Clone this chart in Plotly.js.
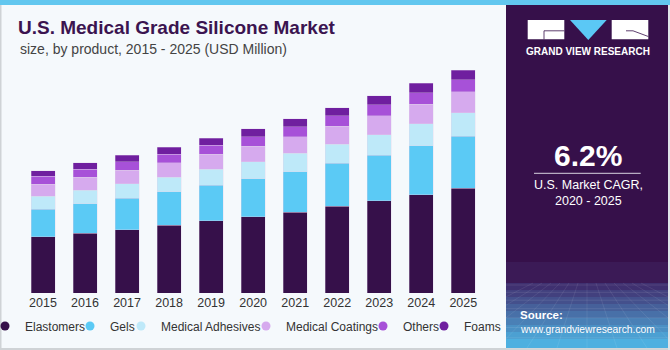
<!DOCTYPE html>
<html>
<head>
<meta charset="utf-8">
<script src="https://cdn.plot.ly/plotly-3.0.1.min.js"></script>
<style>
  html, body { margin: 0; padding: 0; background: #f5f9fc; }
  #chart { width: 670px; height: 350px; }
</style>
</head>
<body>
<div id="chart"></div>
<script>
// ---- Data (USD Million) ----
const years = ['2015','2016','2017','2018','2019','2020','2021','2022','2023','2024','2025'];
const elastomers = [53.2, 56.3, 59.8, 63.9, 68.3, 72.0, 76.4, 81.7, 87.1, 92.7, 99.1];
const gels       = [26.0, 28.0, 29.8, 31.8, 33.3, 35.8, 38.0, 40.6, 43.1, 46.2, 49.1];
const adhesives  = [12.0, 12.6, 13.6, 13.8, 15.1, 16.0, 17.3, 17.9, 19.4, 20.8, 22.0];
const coatings   = [11.3, 12.3, 12.6, 13.6, 14.4, 14.8, 15.8, 17.0, 17.9, 18.6, 19.8];
const others     = [7.5, 7.5, 7.9, 8.1, 8.2, 8.8, 9.4, 10.1, 10.4, 10.7, 11.3];
const foams      = [5.4, 6.3, 6.3, 6.6, 6.9, 7.5, 7.5, 7.5, 8.2, 8.8, 9.2];
const seriesNames = ['Elastomers', 'Gels', 'Medical Adhesives', 'Medical Coatings', 'Others', 'Foams'];
const labelYears = ['2017', '2018'];
const labelTexts = ['$130.0M', '$137.8M'];
const cagrText = '6.2%';

// ---- Styles ----
const seriesValues = [elastomers, gels, adhesives, coatings, others, foams];
const colors = ['#36104a', '#5bcaf5', '#bee9f9', '#d6aaee', '#a751d8', '#6f1f9f'];
const legendWidths = [55, 21, 95, 87, 31, 42];
const FONT = '"Liberation Sans", Arial, sans-serif';

const W = 670, H = 350;
const M = {l: 2, r: 2, t: 60, b: 57};
const PW = W - M.l - M.r, PH = H - M.t - M.b;
const px = v => (v - M.l) / PW;          // pixel x -> paper x
const py = v => (H - M.b - v) / PH;      // pixel y -> paper y
const STEP = 42.03, FIRST = 43;          // category spacing / first centre (px)

const traces = [];
seriesValues.forEach((vals, i) => {
  traces.push({
    type: 'bar', x: years, y: vals, name: seriesNames[i],
    width: 24 / STEP,
    marker: {color: colors[i], line: {color: 'rgba(225,210,235,0.55)', width: 0.6}},
    showlegend: false, hoverinfo: 'x+y+name'
  });
});
seriesNames.forEach((n, i) => {
  traces.push({
    type: 'scatter', mode: 'markers', x: [years[0]], y: [null], name: n,
    marker: {color: colors[i], size: 9, symbol: 'circle'},
    legendwidth: legendWidths[i], showlegend: true, hoverinfo: 'skip'
  });
});

const totals = years.map((_, j) => seriesValues.reduce((s, arr) => s + arr[j], 0));
const shifts = [7, 16];

const annotations = labelYears.map((yr, k) => ({
  x: yr, y: totals[years.indexOf(yr)], xref: 'x', yref: 'y',
  text: labelTexts[k], showarrow: false, yanchor: 'bottom', yshift: shifts[k],
  font: {family: FONT, size: 14, color: '#333333'}
}));

function ann(text, xPix, yPix, size, opts) {
  return Object.assign({
    text: text, x: px(xPix), y: py(yPix), xref: 'paper', yref: 'paper',
    showarrow: false, xanchor: 'center', yanchor: 'middle',
    font: {family: FONT, size: size, color: '#ffffff'}
  }, opts || {});
}
annotations.push(ann('size, by product, 2015 - 2025 (USD Million)', 18, 48.5, 14,
  {xanchor: 'left', font: {family: FONT, size: 14, color: '#444444'}}));
annotations.push(ann('<b>GRAND VIEW RESEARCH</b>', 588, 51.7, 10));
annotations.push(ann('<b>' + cagrText + '</b>', 588, 155, 30));
annotations.push(ann('U.S. Market CAGR,', 588, 185, 12.5));
annotations.push(ann('2020 - 2025', 588, 201, 12.5));
annotations.push(ann('<b>Source:</b>', 518, 315, 11.5, {xanchor: 'left'}));
annotations.push(ann('www.grandviewresearch.com', 518, 329, 10.3, {xanchor: 'left'}));

function rect(x0, y0, x1, y1, color, extra) {
  return Object.assign({type: 'rect', xref: 'paper', yref: 'paper',
    x0: px(x0), x1: px(x1), y0: py(y0), y1: py(y1),
    fillcolor: color, line: {width: 0}, layer: 'below'}, extra || {});
}
function line(x0, y0, x1, y1, color, w) {
  return {type: 'line', xref: 'paper', yref: 'paper',
    x0: px(x0), x1: px(x1), y0: py(y0), y1: py(y1),
    line: {color: color, width: w}, layer: 'above'};
}
const shapes = [];
shapes.push(rect(0, 0, 670, 5, '#62c7ef'));
shapes.push(rect(0, 5, 1.5, 350, '#cfd3d6'));
shapes.push(rect(0, 348, 670, 350, '#cfd3d6'));
// right panel
shapes.push(rect(506, 5, 668, 348, '#36104a'));
shapes.push(rect(668, 5, 670, 350, '#dfe4e8'));
// panel bottom gradient
const bands = [
  [262, 283, '#3b1a56'], [283, 290, '#3f3070'], [290, 297, '#42407e'], [297, 304, '#44508c'],
  [304, 311, '#46609a'], [311, 318, '#4870a8'], [318, 325, '#4a80b6'], [325, 332, '#4b90c4'],
  [332, 339, '#4ca0d2'], [339, 348, '#4eb0e0']
];
bands.forEach(b => shapes.push(rect(506, b[0], 668, b[1], b[2])));
// faint grid on panel bottom
for (let k = 0; k < 9; k++) {
  const yy = 285 + k * 7 + k * k * 0.3;
  shapes.push({type: 'line', xref: 'paper', yref: 'paper', x0: px(506), x1: px(668), y0: py(yy), y1: py(yy),
    line: {color: 'rgba(255,255,255,0.12)', width: 0.8}, layer: 'below'});
}
for (let k = -6; k <= 6; k++) {
  shapes.push({type: 'line', xref: 'paper', yref: 'paper', x0: px(587 + k * 9), x1: px(587 + k * 30), y0: py(283), y1: py(348),
    line: {color: 'rgba(255,255,255,0.10)', width: 0.8}, layer: 'below'});
}
// logo
shapes.push(Object.assign(rect(527.7, 20, 564.3, 39.3, '#ffffff'), {layer: 'above'}));
shapes.push(Object.assign(rect(611.7, 20, 648.3, 39.3, '#ffffff'), {layer: 'above'}));
shapes.push({type: 'path', xref: 'paper', yref: 'paper', layer: 'above',
  path: 'M ' + px(570) + ' ' + py(20) + ' L ' + px(606.7) + ' ' + py(20) + ' L ' + px(588.3) + ' ' + py(40) + ' Z',
  fillcolor: '#5bc8f5', line: {width: 0}});
shapes.push(line(544, 30.8, 564.3, 30.8, '#36104a', 0.8));
shapes.push(line(544, 30.8, 544, 39.3, '#36104a', 0.8));
shapes.push(line(626, 30.8, 633, 30.8, '#36104a', 0.8));
shapes.push(line(633, 30.8, 648.3, 36.5, '#36104a', 0.8));
// CAGR separator
shapes.push(line(534, 173.3, 640.7, 173.3, '#d9d3e0', 1));

const layout = {
  width: W, height: H,
  margin: Object.assign({autoexpand: false}, M),
  paper_bgcolor: '#f5f9fc', plot_bgcolor: '#f5f9fc',
  barmode: 'stack',
  title: {
    text: '<b>U.S. Medical Grade Silicone Market</b>',
    x: 18 / W, xanchor: 'left', xref: 'container',
    y: 1 - 27.5 / H, yanchor: 'middle', yref: 'container',
    font: {family: FONT, size: 19, color: '#3b1450'}
  },
  xaxis: {
    type: 'category',
    range: [(M.l - FIRST) / STEP, (W - M.r - FIRST) / STEP],
    showgrid: false, zeroline: false,
    showline: false, ticks: '', fixedrange: true,
    tickfont: {family: FONT, size: 12.5, color: '#333333'}
  },
  yaxis: {
    range: [0, PH / 1.0594], showgrid: false, zeroline: false, showline: false,
    showticklabels: false, ticks: '', fixedrange: true
  },
  showlegend: true,
  legend: {
    orientation: 'h', xref: 'container', yref: 'container',
    x: 0, xanchor: 'left', y: 1 - 326 / H, yanchor: 'middle',
    indentation: -15, traceorder: 'normal',
    bgcolor: 'rgba(0,0,0,0)', borderwidth: 0,
    font: {family: FONT, size: 12, color: '#333333'}
  },
  annotations: annotations,
  shapes: shapes
};

Plotly.newPlot('chart', traces, layout, {displayModeBar: false, staticPlot: true});
</script>
</body>
</html>
